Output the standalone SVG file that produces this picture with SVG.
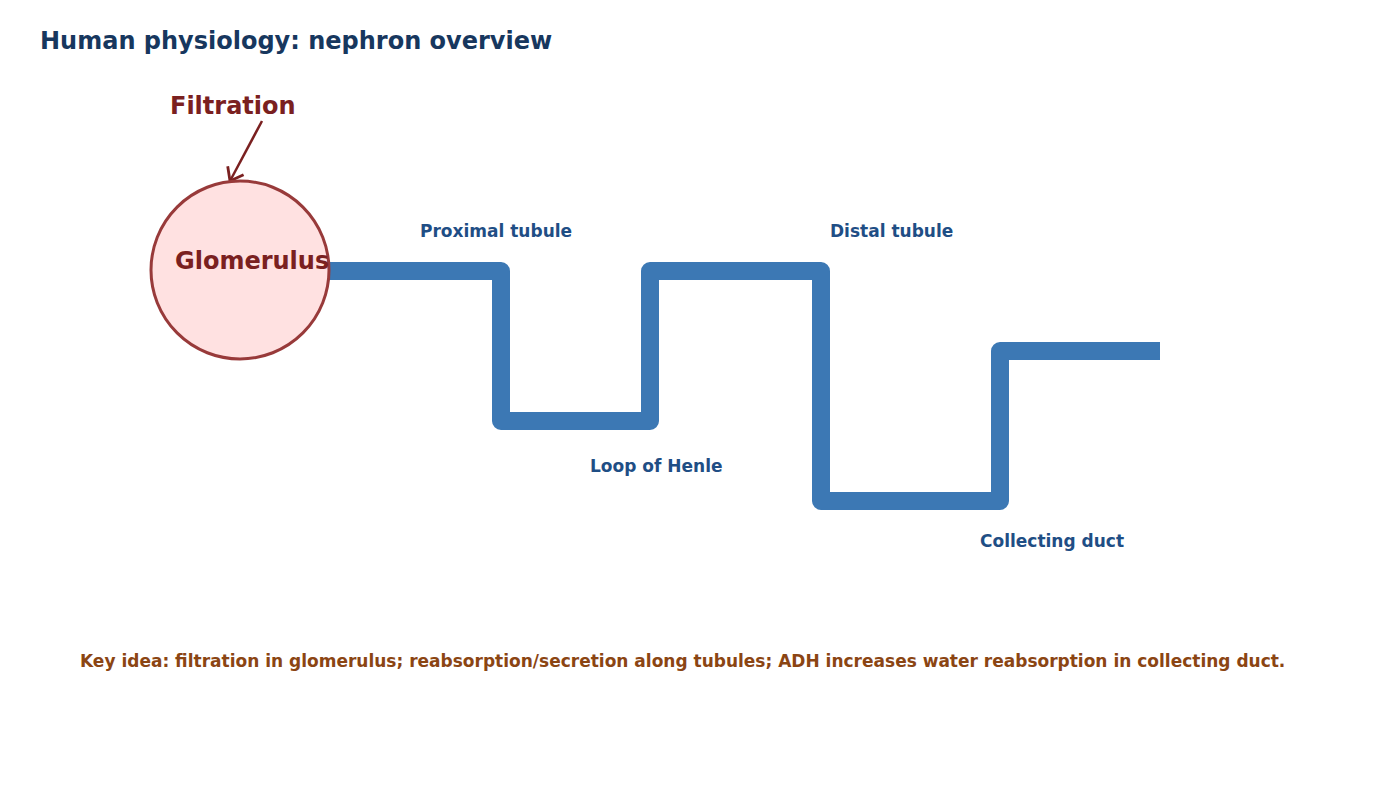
<svg xmlns="http://www.w3.org/2000/svg" width="1400" height="800" viewBox="0 0 1400 800">
<style>
text{font-family:"DejaVu Sans","Liberation Sans",sans-serif;font-weight:bold}
.title{font-size:24px;fill:#17375e}
.red{font-size:24px;fill:#7a2020}
.lbl{font-size:17px;fill:#1f4e85}
.note{font-size:17px;fill:#8b4513}
.tube{fill:none;stroke:#3c78b4;stroke-width:18;stroke-linejoin:round;stroke-linecap:butt}
</style>
<defs>
<marker id="arr" viewBox="-2 -2 18 22" refX="12" refY="9" markerWidth="18" markerHeight="22" markerUnits="userSpaceOnUse" orient="auto">
<path d="M0 0 L12 9 L0 18" fill="none" stroke="#7a2020" stroke-width="2.8"/>
</marker>
</defs>
<rect width="1400" height="800" fill="#ffffff"/>
<text class="title" x="40" y="49">Human physiology: nephron overview</text>
<g id="connectors">
<path class="tube" d="M326 271 H501 V421 H650 V271 H821 V501 H1000 V351 H1160"/>
<line x1="262" y1="121" x2="230" y2="181" stroke="#7a2020" stroke-width="2.5" marker-end="url(#arr)"/>
</g>
<g id="glomerulus">
<circle cx="240" cy="270" r="89" fill="#ffe1e1" stroke="#983a3a" stroke-width="3"/>
<text class="red" x="175" y="269">Glomerulus</text>
</g>
<g id="filtration"><text class="red" x="170" y="114">Filtration</text></g>
<g id="proximal"><text class="lbl" x="420" y="237">Proximal tubule</text></g>
<g id="distal"><text class="lbl" x="830" y="237">Distal tubule</text></g>
<g id="loop"><text class="lbl" x="590" y="472">Loop of Henle</text></g>
<g id="collecting"><text class="lbl" x="980" y="547">Collecting duct</text></g>
<g id="note"><text class="note" x="80" y="667">Key idea: filtration in glomerulus; reabsorption/secretion along tubules; ADH increases water reabsorption in collecting duct.</text></g>
</svg>
